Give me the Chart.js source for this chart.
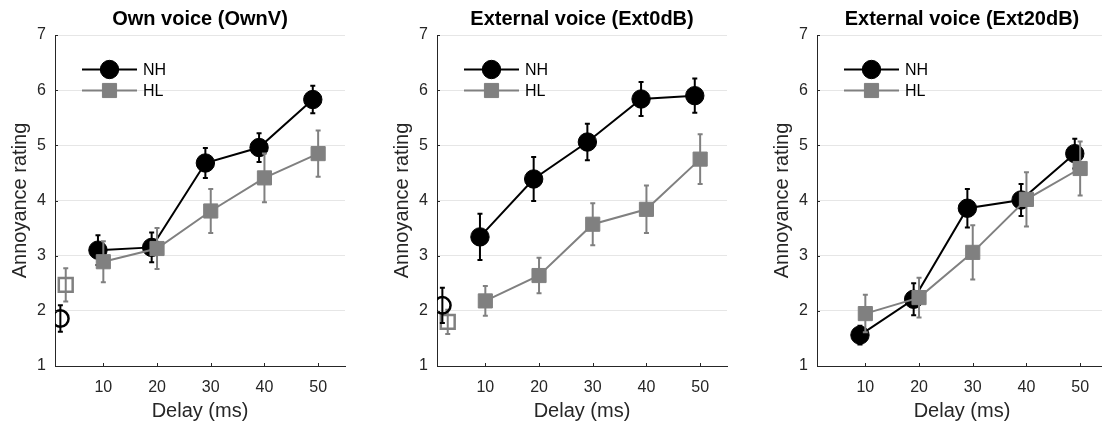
<!DOCTYPE html>
<html>
<head>
<meta charset="utf-8">
<script src="https://cdn.jsdelivr.net/npm/chart.js@4.4.1/dist/chart.umd.min.js"></script>
<style>
  body { margin: 0; background: #fff; }
  #wrap { position: relative; width: 1102px; height: 425px; overflow: hidden; }
  #wrap canvas { position: absolute; top: 0; }
</style>
</head>
<body>
<div id="wrap">
  <canvas id="own" width="367" height="425" style="left:0px"></canvas>
  <canvas id="ext0" width="367" height="425" style="left:382px"></canvas>
  <canvas id="ext20" width="367" height="425" style="left:762px"></canvas>
</div>
<script>
// delays tested, NH is nudged left so the two groups don't sit on top of each other
const delays = [10, 20, 30, 40, 50];
const nhShift = -1;
const baselineX = 3;

// Own voice
const ownNH = [3.10, 3.15, 4.68, 4.96, 5.83];
const ownNHErr = [0.27, 0.27, 0.27, 0.26, 0.25];
const ownHL = [2.89, 3.13, 3.81, 4.41, 4.85];
const ownHLErr = [0.37, 0.37, 0.40, 0.44, 0.42];
const ownBase = { nh: 1.86, nhErr: 0.24, hl: 2.47, hlErr: 0.30 };

// External voice, 0 dB
const ext0NH = [3.34, 4.39, 5.06, 5.84, 5.90];
const ext0NHErr = [0.42, 0.40, 0.33, 0.31, 0.31];
const ext0HL = [2.18, 2.64, 3.57, 3.84, 4.75];
const ext0HLErr = [0.27, 0.32, 0.38, 0.43, 0.45];
const ext0Base = { nh: 2.10, nhErr: 0.32, hl: 1.80, hlErr: 0.22 };

// External voice, 20 dB
const ext20NH = [1.56, 2.21, 3.86, 4.01, 4.85];
const ext20NHErr = [0.17, 0.29, 0.35, 0.29, 0.27];
const ext20HL = [1.95, 2.24, 3.06, 4.02, 4.58];
const ext20HLErr = [0.34, 0.36, 0.49, 0.49, 0.49];

const yTicks = [1, 2, 3, 4, 5, 6, 7];

const BLACK = '#000000';
const GRAY = '#808080';
const AXIS = '#262626';
const FONT = "'Liberation Sans', Arial, Helvetica, sans-serif";

Chart.defaults.font.family = FONT;

// vertical error bars with small caps, drawn just before each dataset
const errorBars = {
  id: 'errorBars',
  beforeDatasetDraw(chart, args) {
    const ds = chart.data.datasets[args.index];
    if (!ds.err) return;
    const ctx = chart.ctx;
    const y = chart.scales.y;
    ctx.save();
    ctx.strokeStyle = ds.borderColor;
    ctx.lineWidth = 2;
    args.meta.data.forEach((pt, i) => {
      const v = ds.data[i].y, e = ds.err[i];
      const top = y.getPixelForValue(v + e);
      const bot = y.getPixelForValue(v - e);
      ctx.beginPath();
      ctx.moveTo(pt.x, top); ctx.lineTo(pt.x, bot);
      ctx.moveTo(pt.x - 2.5, top); ctx.lineTo(pt.x + 2.5, top);
      ctx.moveTo(pt.x - 2.5, bot); ctx.lineTo(pt.x + 2.5, bot);
      ctx.stroke();
    });
    ctx.restore();
  }
};

// small tick marks pointing into the plot, plus the panel title centred on the axes
const axesDecor = {
  id: 'axesDecor',
  afterDraw(chart) {
    const { ctx, chartArea: a, scales: { x, y } } = chart;
    ctx.save();
    ctx.strokeStyle = AXIS;
    ctx.lineWidth = 1;
    ctx.beginPath();
    x.ticks.forEach(t => {
      const px = Math.round(x.getPixelForValue(t.value)) + 0.5;
      ctx.moveTo(px, a.bottom); ctx.lineTo(px, a.bottom - 3);
    });
    y.ticks.forEach(t => {
      const py = Math.round(y.getPixelForValue(t.value)) + 0.5;
      ctx.moveTo(a.left, py); ctx.lineTo(a.left + 3, py);
    });
    ctx.stroke();

    ctx.fillStyle = '#000';
    ctx.font = 'bold 20px ' + FONT;
    ctx.textAlign = 'center';
    ctx.textBaseline = 'middle';
    ctx.fillText(chart.options.panelTitle, (a.left + a.right) / 2, 19);
    ctx.restore();
  }
};

// legend entries as line + marker, like a plotted sample
const lineLegend = {
  id: 'lineLegend',
  afterDatasetsDraw(chart) {
    const { ctx, chartArea: a } = chart;
    const rows = chart.data.datasets.filter(d => d.inLegend);
    ctx.save();
    rows.forEach((d, i) => {
      const yy = a.top + 34.5 + i * 21;
      ctx.strokeStyle = d.borderColor;
      ctx.lineWidth = 2;
      ctx.beginPath();
      ctx.moveTo(a.left + 27, yy);
      ctx.lineTo(a.left + 82, yy);
      ctx.stroke();
      ctx.fillStyle = d.backgroundColor;
      ctx.lineWidth = 1;
      Chart.helpers.drawPoint(ctx, { pointStyle: d.pointStyle, radius: d.pointRadius, borderWidth: 1, rotation: 0 }, a.left + 54.5, yy);
      ctx.fillStyle = '#000';
      ctx.font = '16px ' + FONT;
      ctx.textBaseline = 'middle';
      ctx.textAlign = 'left';
      ctx.fillText(d.label, a.left + 88, yy + 1);
    });
    ctx.restore();
  }
};

function series(label, xs, ys, err, color, style, radius, order) {
  return {
    label: label,
    data: xs.map((x, i) => ({ x: x, y: ys[i] })),
    err: err,
    showLine: true,
    borderColor: color,
    backgroundColor: color,
    borderWidth: 2,
    pointStyle: style,
    pointRadius: radius,
    pointBorderWidth: 1,
    order: order,
    inLegend: true
  };
}

function baseline(y, e, x, color, style, radius) {
  return {
    label: 'baseline',
    data: [{ x: x, y: y }],
    err: [e],
    showLine: false,
    borderColor: color,
    backgroundColor: 'rgba(0,0,0,0)',
    pointStyle: style,
    pointRadius: radius,
    pointBorderWidth: 2.5,
    order: 2
  };
}

function makePanel(id, title, nh, nhErr, hl, hlErr, base) {
  const datasets = [
    series('NH', delays.map(d => d + nhShift), nh, nhErr, BLACK, 'circle', 9.2, 1),
    series('HL', delays, hl, hlErr, GRAY, 'rect', 10, 0)
  ];
  if (base) {
    datasets.push(baseline(base.nh, base.nhErr, baselineX + nhShift, BLACK, 'circle', 8.2));
    datasets.push(baseline(base.hl, base.hlErr, baselineX, GRAY, 'rect', 9.8));
  }

  return new Chart(document.getElementById(id), {
    type: 'scatter',
    data: { datasets: datasets },
    plugins: [errorBars, axesDecor, lineLegend],
    options: {
      panelTitle: title,
      responsive: false,
      animation: false,
      layout: { padding: { left: 0, right: 22, top: 35, bottom: 0 } },
      plugins: {
        legend: { display: false },
        tooltip: { enabled: false },
        title: { display: false }
      },
      scales: {
        x: {
          type: 'linear',
          min: 1,
          max: 55,
          afterBuildTicks: s => { s.ticks = delays.map(v => ({ value: v })); },
          afterFit: s => { s.height = 59; },
          grid: { display: false, drawTicks: false },
          border: { color: AXIS, width: 1 },
          ticks: { color: AXIS, font: { size: 16 }, padding: 12 },
          title: { display: true, text: 'Delay (ms)', color: AXIS, font: { size: 20 }, padding: { top: 0, bottom: 1.5 } }
        },
        y: {
          min: 1,
          max: 7,
          afterBuildTicks: s => { s.ticks = yTicks.map(v => ({ value: v })); },
          afterFit: s => { s.width = 55; },
          grid: { color: '#e6e6e6', drawTicks: false },
          border: { color: AXIS, width: 1 },
          ticks: { color: AXIS, font: { size: 16 }, padding: 9 },
          title: { display: true, text: 'Annoyance rating', color: AXIS, font: { size: 20 }, padding: { top: 8, bottom: 0 } }
        }
      }
    }
  });
}

makePanel('own', 'Own voice (OwnV)', ownNH, ownNHErr, ownHL, ownHLErr, ownBase);
makePanel('ext0', 'External voice (Ext0dB)', ext0NH, ext0NHErr, ext0HL, ext0HLErr, ext0Base);
makePanel('ext20', 'External voice (Ext20dB)', ext20NH, ext20NHErr, ext20HL, ext20HLErr, null);
</script>
</body>
</html>
